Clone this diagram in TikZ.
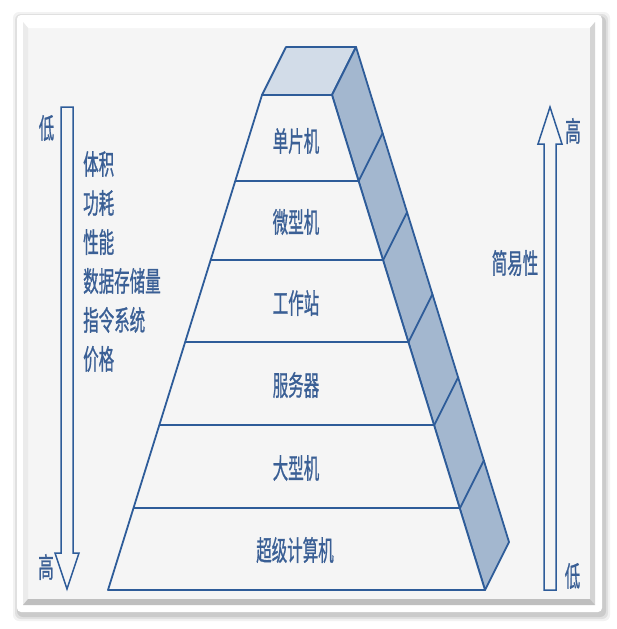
\documentclass[tikz,border=0pt]{standalone}
\usepackage{fontspec}
\usepackage{graphicx}
\newfontfamily\cjk[RawFeature={embolden=1.2}]{Noto Sans CJK SC}
\newcommand{\tallt}[1]{\scalebox{1}[1.8]{#1}}
\definecolor{linec}{HTML}{2E5C99}
\definecolor{txtc}{HTML}{3A5F95}
\definecolor{topc}{HTML}{D2DCE8}
\definecolor{sidec}{HTML}{A3B7CF}
\definecolor{panelc}{HTML}{F5F5F5}
\tikzset{
  lbl/.style={text=txtc, font=\cjk\fontsize{15.5}{15.5}\selectfont, inner sep=0pt},
  edge/.style={draw=linec, line width=1.8pt, line join=round},
  arr/.style={draw=linec, line width=1.5pt, line join=miter, fill=panelc},
}
\begin{document}
\begin{tikzpicture}[x=1pt,y=-1pt]
\useasboundingbox (0,0) rectangle (616,629);
\fill[white] (0,0) rectangle (616,629);
% frame shadow
\foreach \d/\o in {6/0.05,4/0.07,2/0.09}{
  \fill[black,opacity=\o,rounded corners=6] (17-\d+2,15-\d+3) rectangle (602+\d+2,612+\d+3);
}
\fill[white,rounded corners=4] (17,15) rectangle (602,612);
% inner panel
\fill[panelc] (23,22) rectangle (595,605);
\fill[white] (23,22) -- (595,22) -- (590,28) -- (28,28) -- cycle;
\fill[black!8] (23,22) -- (28,28) -- (28,599) -- (23,605) -- cycle;
\fill[black!17] (595,22) -- (595,605) -- (590,599) -- (590,28) -- cycle;
\fill[black!25] (23,605) -- (595,605) -- (590,599) -- (28,599) -- cycle;

% pyramid coordinates
\coordinate (tl) at (262,95);
\coordinate (tr) at (332,95);
\coordinate (bl) at (108,590);
\coordinate (br) at (485,590);
\coordinate (btl) at (286,47);
\coordinate (btr) at (356,47);
\coordinate (bbr) at (509,542);

% top face
\path[edge, fill=topc] (tl) -- (btl) -- (btr) -- (tr) -- cycle;
% side face
\path[edge, fill=sidec] (tr) -- (btr) -- (bbr) -- (br) -- cycle;
% front face
\path[edge, fill=panelc] (tl) -- (tr) -- (br) -- (bl) -- cycle;

% layer lines
\foreach \y [count=\i] in {181,260,342,425,508}{
  \pgfmathsetmacro{\dx}{0.3101*(\y-95)}
  \coordinate (L\i) at ({262-\dx},\y);
  \coordinate (R\i) at ({332+\dx},\y);
  \coordinate (S\i) at ({356+\dx},\y-48);
  \draw[edge] (L\i) -- (R\i) -- (S\i);
}

% layer labels
\node[lbl] (n1) at (296,141) {\tallt{单片机}};
\node[lbl] (n2) at (296,222) {\tallt{微型机}};
\node[lbl] (n3) at (296,303) {\tallt{工作站}};
\node[lbl] (n4) at (296,385) {\tallt{服务器}};
\node[lbl] (n5) at (296,468) {\tallt{大型机}};
\node[lbl] (n6) at (295,550) {\tallt{超级计算机}};

% left arrow (down)
\path[arr] (61,107) -- (73,107) -- (73,553) -- (79,553) -- (67,589) -- (55,553) -- (61,553) -- cycle;
\node[lbl] (lowL) at (46.5,128) {\tallt{低}};
\node[lbl] (highL) at (46,567) {\tallt{高}};
\node[lbl,anchor=west] (a1) at (83,164) {\tallt{体积}};
\node[lbl,anchor=west] (a2) at (83,203) {\tallt{功耗}};
\node[lbl,anchor=west] (a3) at (83,242) {\tallt{性能}};
\node[lbl,anchor=west] (a4) at (83,281) {\tallt{数据存储量}};
\node[lbl,anchor=west] (a5) at (83,320) {\tallt{指令系统}};
\node[lbl,anchor=west] (a6) at (83,359) {\tallt{价格}};

% right arrow (up)
\path[arr] (544,590) -- (556,590) -- (556,144) -- (562,144) -- (550,107) -- (538,144) -- (544,144) -- cycle;
\node[lbl] (highR) at (573,131) {\tallt{高}};
\node[lbl] (lowR) at (572.5,576) {\tallt{低}};
\node[lbl] (simp) at (515,263) {\tallt{简易性}};
\end{tikzpicture}
\end{document}
